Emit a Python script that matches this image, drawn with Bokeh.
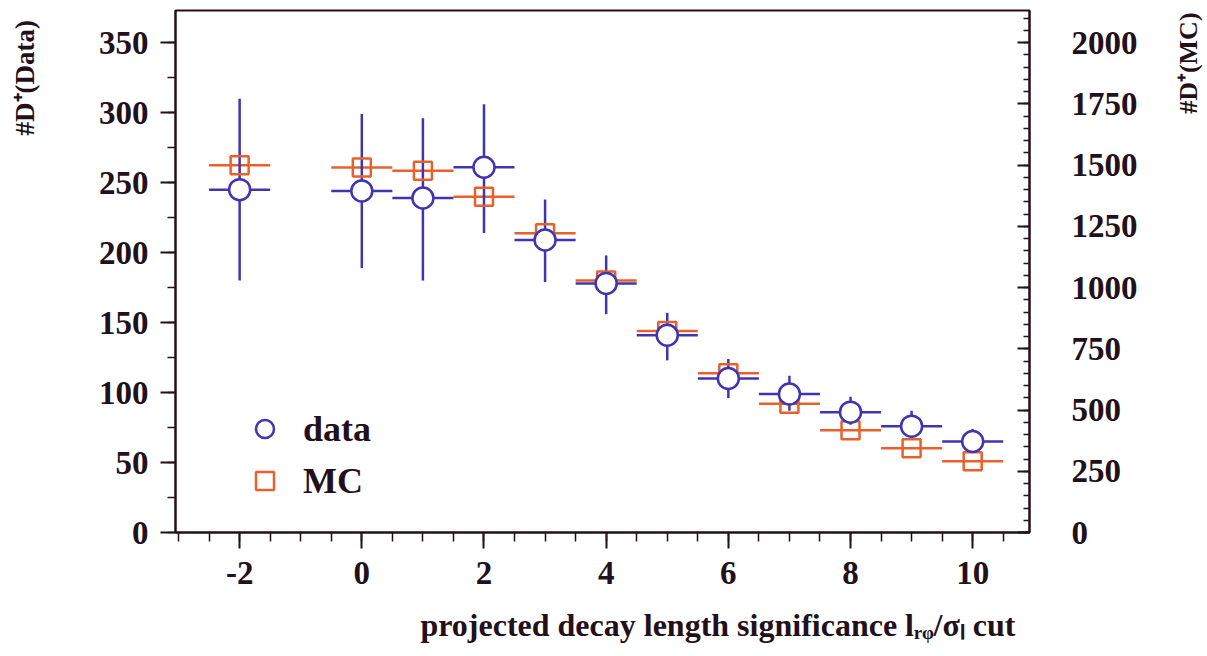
import math
from bokeh.plotting import figure
from bokeh.layouts import row, column
from bokeh.models import (Range1d, LinearAxis, SingleIntervalTicker, Label, Legend,
                          LegendItem, CustomJSTickFormatter)
from bokeh.embed import file_html
from bokeh.resources import INLINE

# ---- data ----
x_cut = [-2, 0, 1, 2, 3, 4, 5, 6, 7, 8, 9, 10]
data_val = [245, 244, 239, 261, 209, 178, 141, 110, 99, 86, 76, 65]
data_hi = [310, 299, 296, 306, 238, 198, 157, 124, 112, 97, 87, 74]
data_lo = [180, 189, 180, 214, 179, 156, 123, 96, 87, 77, 67, 57]
mc_val = [1500, 1490, 1477, 1371, 1222, 1029, 823, 650, 526, 417, 344, 291]
bin_half = 0.5

FONT = "Liberation Serif"
INK = "#22101a"
BLUE = "#4034b0"
ORANGE = "#e8602c"

W = 1207
HB = 50            # strip below holding the x title
H = 656 - HB       # height of the main row
SIDE_L = 45
SIDE_R = 45
MAIN_W = W - SIDE_L - SIDE_R

p = figure(width=MAIN_W, height=H, output_backend="svg", toolbar_location=None,
           x_range=Range1d(-3.05, 10.93), y_range=Range1d(0, 373),
           min_border_left=175 - SIDE_L, min_border_right=MAIN_W - (1029 - SIDE_L),
           min_border_top=10, min_border_bottom=H - 532)
p.grid.visible = False
p.outline_line_color = INK
p.outline_line_width = 2

p.extra_y_ranges = {"mc": Range1d(0, 373 * 2000 / 350)}
raxis = LinearAxis(y_range_name="mc")
p.add_layout(raxis, "right")

def style(ax):
    ax.axis_line_color = INK
    ax.axis_line_width = 2
    ax.major_tick_line_color = INK
    ax.minor_tick_line_color = INK
    ax.major_tick_line_width = 2
    ax.minor_tick_line_width = 1.5
    ax.major_label_text_font = FONT
    ax.major_label_text_font_style = "bold"
    ax.major_label_text_font_size = "33px"
    ax.major_label_text_color = INK

xax = p.xaxis[0]
yax = p.yaxis[0]
for ax in (xax, yax, raxis):
    style(ax)

xax.ticker = SingleIntervalTicker(interval=2, num_minor_ticks=4)
xax.formatter = CustomJSTickFormatter(code="return tick.toString()")
xax.major_tick_out = 16
xax.major_tick_in = 0
xax.minor_tick_out = 9
xax.minor_tick_in = 0
xax.major_label_standoff = 13

yax.ticker = SingleIntervalTicker(interval=50, num_minor_ticks=2)
yax.major_tick_out = 15
yax.major_tick_in = 0
yax.minor_tick_out = 8
yax.minor_tick_in = 0
yax.major_label_standoff = 12

raxis.ticker = SingleIntervalTicker(interval=250, num_minor_ticks=5)
raxis.major_tick_out = 0
raxis.major_tick_in = 12
raxis.minor_tick_out = 0
raxis.minor_tick_in = 6
raxis.major_label_standoff = 42

# ---- error bars ----
x0 = [x - bin_half for x in x_cut]
x1 = [x + bin_half for x in x_cut]
p.segment(x0=x0, y0=mc_val, x1=x1, y1=mc_val, line_color=ORANGE, line_width=2.5,
          y_range_name="mc")
p.segment(x0=x0, y0=data_val, x1=x1, y1=data_val, line_color=BLUE, line_width=2.5)
p.segment(x0=x_cut, y0=data_lo, x1=x_cut, y1=data_hi, line_color=BLUE, line_width=2.5)

mc_r = p.scatter(x=x_cut, y=mc_val, marker="square", size=18, fill_color=None,
                 line_color=ORANGE, line_width=2.5, y_range_name="mc")
data_r = p.scatter(x=x_cut, y=data_val, marker="circle", size=21, fill_color="white",
                   line_color=BLUE, line_width=2.5)

legend = Legend(items=[LegendItem(label="data", renderers=[data_r]),
                       LegendItem(label="MC", renderers=[mc_r])],
                location=(67, 29), orientation="vertical",
                glyph_width=45, glyph_height=45, spacing=7, padding=0, margin=0,
                label_standoff=16, border_line_color=None,
                background_fill_alpha=0,
                label_text_font=FONT, label_text_font_style="bold",
                label_text_font_size="36px", label_text_color=INK)
p.add_layout(legend, "center")

# ---- panels holding the axis titles ----
def panel(width, height):
    f = figure(width=width, height=height, output_backend="svg", toolbar_location=None,
               x_range=Range1d(0, width), y_range=Range1d(0, height), min_border=0,
               x_axis_type=None, y_axis_type=None)
    f.grid.visible = False
    f.outline_line_color = None
    return f

def side(width, text, xc, ystart, size):
    f = panel(width, H)
    f.add_layout(Label(x=xc, y=H - ystart, text=text, angle=math.pi / 2,
                       text_align="left", text_baseline="middle",
                       text_font=FONT, text_font_style="bold",
                       text_font_size=size, text_color=INK))
    return f

left = side(SIDE_L, "#D\u207a(Data)", 24, 145, "27px")
right = side(SIDE_R, "#D\u207a(MC)", 1188 - (W - SIDE_R), 120, "26px")

bottom = panel(W, HB)
bottom.add_layout(Label(x=1015, y=32,
                        text="projected decay length significance l\u1d63\u1d69/\u03c3\u2097 cut",
                        text_align="right", text_baseline="alphabetic",
                        text_font=FONT, text_font_style="bold", text_font_size="32px",
                        text_color=INK))

layout = column(row(left, p, right, spacing=0), bottom, spacing=0)
open("out.html", "w").write(file_html(layout, INLINE))
